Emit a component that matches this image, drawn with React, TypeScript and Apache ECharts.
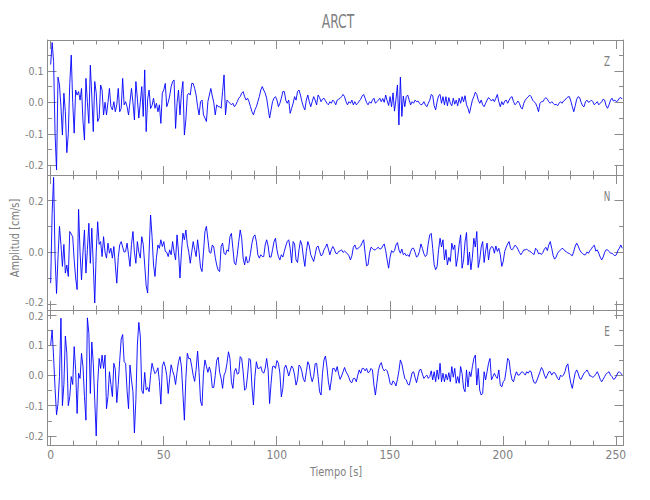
import React, { useEffect, useRef } from "react";
import * as echarts from "echarts";

// ---- data ----
const DT = 0.65; // seconds between samples
const channels = ["Z", "N", "E"];
const title = "ARCT";
const xName = "Tiempo [s]";
const yName = "Amplitud [cm/s]";
const xRange = [-1.4, 253.4];
const yRanges = [
  [-0.231, 0.198],
  [-0.224, 0.299],
  [-0.23, 0.216],
];
const yIntervals = [0.1, 0.2, 0.1];
const ySplits = [5, 3, 5];

const zAmp = [
  0.12, 0.19, 0.13, -0.1, -0.215, 0.08, 0.055, -0.014, -0.104, 0.029,
  -0.03, -0.16, -0.1, 0.06, 0.15, 0.0, -0.098, 0.039, 0.023, 0.034,
  0.007, 0.044, -0.06, -0.12, 0.076, 0.0, -0.067, 0.118, 0.02, -0.093,
  0.066, 0.03, -0.061, -0.05, 0.055, 0.039, -0.04, 0.0, -0.04, 0.0,
  0.044, -0.014, -0.024, 0.002, -0.03, -0.008, 0.044, -0.03, -0.019, 0.076,
  -0.008, 0.002, -0.014, -0.04, 0.002, 0.044, 0.0, -0.056, 0.066, 0.013,
  -0.05, 0.0, 0.05, -0.045, 0.103, -0.093, 0.01, 0.039, -0.02, -0.01,
  0.013, -0.019, -0.003, -0.03, -0.008, -0.067, 0.029, 0.04, 0.06, -0.014,
  0.0, 0.02, 0.05, 0.066, 0.071, -0.083, -0.003, 0.039, -0.04, 0.029,
  0.066, -0.104, -0.056, 0.023, 0.029, 0.023, 0.06, 0.06, 0.044, 0.023,
  -0.014, -0.04, 0.002, 0.007, -0.04, -0.05, -0.061, 0.002, 0.023, 0.044,
  0.02, 0.0, -0.04, -0.008, -0.014, -0.014,
  -0.019, 0.034, 0.087, -0.04, 0.007, 0.002, -0.003, -0.008, -0.003, -0.014,
  -0.008, 0.002, 0.013, 0.018, 0.029, 0.034, 0.018, 0.007, 0.013, 0.002,
  -0.014, -0.03, -0.04, -0.024, -0.014, 0.002, 0.018, 0.039, 0.05, 0.039,
  0.029, 0.013, -0.019, -0.05, -0.024, 0.002, 0.013, 0.018, 0.007, -0.014,
  -0.003, 0.013, 0.034, 0.034, 0.007, -0.003, 0.007, -0.035, -0.019, -0.003,
  0.018, 0.007, 0.034, 0.039, 0.023, 0.002, -0.014, -0.024, 0.007, 0.023,
  0.002, -0.014, 0.002, 0.018, 0.007, -0.008, 0.023, 0.015, 0.002, 0.01,
  0.013, 0.005, -0.003, -0.008, 0.002, -0.003, 0.007, 0.002, -0.008, 0.007,
  0.01, 0.013, 0.018, 0.025, 0.018, 0.002, -0.008, 0.002, -0.003, 0.007,
  -0.008, 0.002, -0.008, -0.003, 0.004, 0.01, 0.02, 0.025, 0.013, -0.001,
  -0.008, 0.002, -0.003, 0.007, 0.013, -0.003, 0.002, 0.007, 0.013, 0.002,
  0.012, 0.0, 0.023, 0.005, -0.01, 0.018, -0.014, 0.03, -0.028, 0.01,
  0.055, -0.072, 0.08, -0.045, 0.02, -0.014, 0.018, 0.023, 0.007, -0.008,
  0.002, -0.003, 0.007, 0.002, 0.004, -0.003,
  -0.008, -0.006, 0.002, -0.008, -0.014, -0.003, 0.007, 0.025, 0.021, -0.011,
  -0.024, 0.002, 0.021, 0.025, -0.003, 0.018, -0.008, 0.018, -0.011, 0.015,
  -0.003, -0.011, 0.013, -0.006, 0.007, -0.011, 0.013, -0.003, 0.018, 0.002,
  0.021, -0.008, -0.019, -0.035, -0.014, 0.007, 0.018, 0.032, 0.025, 0.007,
  -0.003, 0.007, -0.008, -0.014, -0.003, 0.007, 0.015, 0.01, 0.004, 0.01,
  0.002, 0.013, 0.025, 0.002, -0.014, 0.002, -0.008, 0.004, 0.007, -0.003,
  0.007, 0.015, 0.018, 0.002, -0.008, -0.003, 0.004, -0.003, -0.017, -0.021,
  -0.003, 0.007, 0.013, 0.017, 0.023, 0.018, 0.007, 0.002, -0.003, -0.014,
  -0.03, -0.003, 0.002, 0.002, 0.01, 0.015, 0.01, 0.002, -0.003, 0.002,
  -0.003, -0.008, -0.006, -0.011, -0.003, 0.002, -0.003, 0.004, 0.007, 0.013,
  0.017, 0.018, 0.004, -0.014, -0.03, -0.011, 0.01, 0.018, 0.015, 0.0,
  -0.011, -0.014, 0.002, 0.007, 0.0, 0.002, 0.007, 0.002, -0.008, -0.003,
  0.002, -0.008, -0.003, 0.002, 0.01, 0.007, -0.011, -0.019, -0.008, 0.007,
  0.013, 0.004, 0.007, 0.002, 0.005, 0.013, 0.015, 0.01,
];

const nAmp = [
  -0.12, 0.15, 0.29, -0.02, -0.16, -0.02, 0.1, 0.03, -0.055, 0.03,
  -0.081, -0.05, -0.094, 0.08, 0.07, 0.06, -0.03, -0.1, -0.145, 0.166,
  0.0, -0.107, 0.0, 0.086, -0.081, 0.01, 0.112, -0.043, 0.093, -0.05,
  -0.197, 0.0, 0.118, 0.03, 0.041, -0.017, 0.06, 0.0, -0.023, 0.035,
  -0.004, 0.015, -0.023, 0.022, -0.05, -0.12, -0.02, 0.028, 0.041, 0.02,
  0.0, 0.003, 0.035, -0.01, -0.055, 0.03, 0.08, 0.0, -0.043, 0.041,
  0.0, -0.023, 0.06, 0.03, -0.05, -0.13, -0.158, 0.0, 0.144, 0.06,
  -0.05, -0.094, -0.02, 0.028, 0.015, 0.048, 0.022, 0.041, 0.003, 0.0,
  -0.017, 0.009, -0.01, 0.041, 0.0, -0.03, 0.067, 0.0, -0.1, 0.0,
  0.074, 0.048, 0.086, 0.03, 0.0, -0.043, 0.0, 0.041, 0.01, -0.017,
  0.048, 0.0, -0.06, -0.075, 0.0, 0.08, 0.1, 0.05, 0.0, -0.004,
  0.028, 0.02, -0.02, -0.05, -0.07, -0.075,
  0.022, 0.035, -0.004, -0.01, 0.009, 0.003, 0.06, 0.073, 0.015, -0.042,
  -0.049, -0.01, 0.041, 0.086, 0.054, -0.023, -0.049, -0.017, -0.042, -0.036,
  -0.004, 0.035, 0.06, 0.067, 0.041, -0.01, -0.023, -0.01, -0.017, -0.017,
  0.028, 0.048, 0.024, -0.019, -0.019, 0.009, 0.041, 0.054, 0.009, -0.017,
  -0.03, -0.01, -0.019, 0.003, 0.024, 0.041, 0.048, 0.015, -0.042, 0.041,
  0.032, -0.03, -0.04, 0.009, 0.045, 0.028, -0.019, -0.055, 0.003, 0.041,
  0.024, -0.01, -0.023, -0.036, -0.01, 0.019, 0.024, 0.003, -0.014, -0.01,
  0.009, 0.019, 0.032, 0.012, -0.01, 0.009, 0.022, 0.012, -0.004, -0.006,
  0.003, 0.005, 0.009, -0.001, 0.004, -0.001, -0.006, -0.014, -0.03, -0.014,
  0.019, 0.028, 0.012, 0.014, 0.019, 0.024, 0.037, 0.048, -0.004, -0.053,
  -0.049, -0.004, 0.019, 0.015, 0.009, 0.009, 0.015, 0.019, 0.012, 0.014,
  0.024, 0.032, 0.006, -0.03, -0.062, -0.019, 0.006, -0.001, 0.006, 0.028,
  0.037, 0.009, -0.004, 0.012, -0.01, -0.004, -0.014, -0.01, -0.017, 0.003,
  0.015, 0.015, -0.001, -0.019, -0.014, 0.003,
  0.032, 0.015, -0.006, -0.017, -0.01, 0.035, 0.067, 0.073, 0.015, -0.049,
  -0.068, -0.055, 0.009, 0.054, 0.02, 0.048, -0.03, 0.01, -0.049, -0.02,
  -0.036, 0.035, 0.01, 0.028, -0.055, -0.02, 0.03, 0.067, -0.062, -0.03,
  0.04, 0.076, -0.05, 0.0, -0.068, -0.02, 0.054, 0.02, 0.08, -0.06,
  -0.03, 0.02, 0.041, -0.04, 0.005, 0.035, -0.03, 0.012, 0.022, 0.019,
  -0.004, 0.024, 0.003, 0.015, -0.01, -0.055, -0.036, 0.003, 0.019, 0.032,
  0.041, 0.014, 0.009, 0.017, 0.027, 0.022, 0.012, -0.001, -0.01, -0.001,
  0.009, 0.009, 0.012, 0.006, 0.004, 0.0, -0.006, -0.009, 0.015, 0.009,
  -0.006, -0.004, -0.009, -0.001, 0.012, 0.019, 0.006, 0.028, 0.041, 0.015,
  -0.014, -0.027, -0.019, -0.004, 0.003, 0.009, 0.015, 0.012, 0.005, 0.001,
  -0.003, -0.005, -0.01, -0.014, 0.003, 0.024, 0.035, 0.024, 0.009, 0.0,
  -0.005, -0.01, -0.01, 0.001, -0.004, 0.006, 0.013, 0.022, 0.027, 0.004,
  0.009, -0.004, -0.019, -0.03, -0.019, -0.001, 0.009, 0.009, 0.003, -0.004,
  -0.004, -0.009, -0.014, -0.01, 0.006, 0.015, 0.028, 0.015,
];

const eAmp = [
  0.1, 0.15, 0.06, -0.043, -0.13, -0.093, -0.004, 0.189, -0.1, -0.03,
  0.13, 0.073, -0.1, -0.07, -0.004, -0.03, 0.095, 0.018, -0.126, 0.007,
  -0.01, 0.073, 0.029, -0.07, -0.148, 0.19, 0.139, -0.06, 0.11, 0.04,
  -0.082, -0.2, -0.026, 0.056, 0.023, 0.067, 0.023, 0.067, -0.11, -0.07,
  0.012, -0.03, -0.07, 0.04, 0.02, -0.09, -0.03, 0.05, 0.12, 0.135,
  0.045, 0.04, -0.05, -0.11, 0.034, -0.015, -0.054, -0.19, -0.08, 0.1,
  0.175, 0.13, -0.05, -0.06, 0.01, -0.048, -0.04, -0.054, 0.0, 0.04,
  0.02, 0.006, 0.012, 0.025, -0.02, -0.095, 0.03, 0.045, 0.028, 0.0,
  -0.06, -0.01, 0.035, 0.015, 0.0, -0.03, 0.01, 0.045, 0.062, 0.028,
  -0.06, -0.148, -0.01, 0.073, 0.055, 0.056, 0.03, 0.0, -0.02, 0.02,
  0.08, 0.01, -0.085, -0.1, 0.007, 0.051, 0.03, 0.01, 0.028, 0.01,
  -0.04, -0.04, 0.0, 0.05, 0.06, 0.01,
  -0.01, -0.043, 0.001, 0.012, 0.04, 0.078, 0.056, -0.021, -0.043, 0.012,
  0.023, 0.004, 0.007, 0.062, 0.056, 0.012, -0.049, -0.043, 0.001, 0.056,
  0.051, -0.038, -0.098, -0.004, 0.045, 0.023, 0.023, 0.029, 0.012, 0.007,
  0.023, 0.056, 0.018, -0.093, -0.026, 0.029, 0.031, 0.023, 0.049, 0.04,
  0.007, -0.071, -0.043, 0.023, 0.034, 0.018, -0.002, 0.015, 0.031, 0.023,
  0.001, -0.032, -0.015, 0.034, 0.029, 0.012, -0.013, -0.021, 0.012, 0.045,
  0.034, -0.002, -0.021, -0.004, 0.038, 0.04, -0.004, -0.054, -0.065, 0.007,
  0.051, 0.064, 0.029, -0.021, -0.049, -0.015, 0.023, 0.023, 0.012, 0.029,
  0.004, -0.013, -0.002, 0.012, 0.026, 0.012, 0.004, -0.007, -0.021, -0.024,
  -0.01, -0.01, -0.021, 0.001, 0.018, 0.007, 0.023, 0.023, 0.015, 0.023,
  0.009, 0.012, 0.023, 0.018, -0.032, -0.065, -0.026, 0.015, 0.034, 0.042,
  0.023, 0.015, 0.02, 0.015, -0.002, -0.026, -0.032, -0.018, -0.024, -0.035,
  -0.013, 0.015, 0.051, 0.038, 0.012, -0.01, -0.015, -0.029, -0.032, -0.013,
  0.009, 0.012, -0.007, -0.024, -0.002, 0.018,
  0.02, 0.004, -0.01, -0.004, 0.001, -0.01, -0.004, 0.015, -0.015, 0.012,
  -0.021, 0.018, -0.013, 0.04, -0.021, 0.007, -0.021, 0.004, -0.015, 0.009,
  -0.021, 0.029, -0.006, 0.023, -0.026, -0.004, -0.026, 0.029, 0.006, -0.043,
  -0.054, 0.018, -0.038, 0.012, -0.004, 0.029, 0.056, 0.067, -0.032, 0.023,
  -0.049, -0.065, -0.06, 0.012, -0.015, 0.012, 0.04, 0.056, -0.015, -0.004,
  0.007, -0.004, -0.01, 0.018, -0.032, -0.038, -0.021, -0.015, 0.018, 0.056,
  0.049, 0.009, -0.015, -0.021, -0.002, 0.012, 0.001, 0.001, 0.009, 0.012,
  0.007, 0.001, 0.012, 0.007, 0.015, 0.012, -0.01, -0.024, -0.026, -0.015,
  -0.002, 0.012, 0.026, 0.018, 0.001, -0.01, 0.001, 0.012, 0.012, 0.001,
  0.009, 0.009, 0.001, -0.01, -0.015, 0.001, -0.004, 0.001, 0.012, 0.031,
  0.038, 0.001, -0.026, -0.043, -0.015, 0.009, 0.018, 0.007, -0.01, -0.013,
  -0.002, 0.007, 0.012, 0.018, 0.009, -0.002, -0.002, -0.007, -0.002, 0.004,
  0.012, 0.001, -0.013, -0.021, -0.013, -0.004, 0.004, 0.009, 0.012, 0.001,
  -0.004, -0.013, -0.011, -0.002, 0.009, 0.012, 0.007, 0.001,
];

const traces = [zAmp, nAmp, eAmp];

// ---- styles / layout ----
const FONT = "'DejaVu Sans Condensed', 'Liberation Sans Narrow', 'DejaVu Sans', sans-serif";
const AXIS_COLOR = "#8c8c8c";
const TEXT_COLOR = "#808080";
const LINE_COLOR = "#0000ff";
const GRID_LEFT = 47.5;
const GRID_RIGHT = 26.5;
const GRID_TOPS = [40, 175, 310];
const GRID_H = 135;

function isMultiple(v: number, step: number) {
  const k = v / step;
  return Math.abs(k - Math.round(k)) < 1e-6;
}

function buildOption() {
  const grid = GRID_TOPS.map((t) => ({
    left: GRID_LEFT,
    right: GRID_RIGHT,
    top: t,
    height: GRID_H,
    containLabel: false,
    outerBoundsMode: "none",
  }));

  const xAxis: any[] = [];
  const yAxis: any[] = [];
  GRID_TOPS.forEach((_, g) => {
    ["bottom", "top"].forEach((pos) => {
      xAxis.push({
        type: "value",
        gridIndex: g,
        position: pos,
        min: xRange[0],
        max: xRange[1],
        splitNumber: 5,
        axisLine: { show: true, onZero: false, lineStyle: { color: AXIS_COLOR, width: 1 } },
        axisTick: { show: true, inside: true, length: 9, lineStyle: { color: AXIS_COLOR, width: 1 } },
        minorTick: { show: true, splitNumber: 5, length: 4.5, lineStyle: { color: AXIS_COLOR, width: 1 } },
        splitLine: { show: false },
        minorSplitLine: { show: false },
        axisLabel: {
          show: pos === "bottom" && g === 2,
          color: TEXT_COLOR,
          fontFamily: FONT,
          fontSize: 12,
          lineHeight: 12,
          margin: 4,
          formatter: (v: number) => (isMultiple(v, 50) ? String(Math.round(v)) : ""),
        },
      });
    });
    ["left", "right"].forEach((pos) => {
      yAxis.push({
        type: "value",
        gridIndex: g,
        position: pos,
        min: yRanges[g][0],
        max: yRanges[g][1],
        splitNumber: ySplits[g],
        axisLine: { show: true, onZero: false, lineStyle: { color: AXIS_COLOR, width: 1 } },
        axisTick: { show: true, inside: true, length: 9, lineStyle: { color: AXIS_COLOR, width: 1 } },
        minorTick: { show: true, splitNumber: 2, length: 4.5, lineStyle: { color: AXIS_COLOR, width: 1 } },
        splitLine: { show: false },
        minorSplitLine: { show: false },
        axisLabel: {
          show: pos === "left",
          color: TEXT_COLOR,
          fontFamily: FONT,
          fontSize: 10.5,
          lineHeight: 10,
          margin: 4,
          rich: {
            up: { fontFamily: FONT, fontSize: 10.5, lineHeight: 10, color: TEXT_COLOR, padding: [0, 0, 3, 0] },
            down: { fontFamily: FONT, fontSize: 10.5, lineHeight: 10, color: TEXT_COLOR, padding: [3, 0, 0, 0] },
          },
          formatter: (v: number) => {
            if (!isMultiple(v, yIntervals[g])) return "";
            const s = Math.abs(v) < 1e-9 ? "0.0" : v.toFixed(1);
            // nudge the two labels that sit close to the panel border
            if (g === 1 && Math.abs(v + 0.2) < 1e-6) return "{up|" + s + "}";
            if (g === 2 && Math.abs(v - 0.2) < 1e-6) return "{down|" + s + "}";
            return s;
          },
        },
      });
    });
  });

  const series = traces.map((amp, g) => ({
    type: "line",
    xAxisIndex: g * 2,
    yAxisIndex: g * 2,
    data: amp.map((v, i) => [i * DT, v]),
    showSymbol: false,
    symbol: "none",
    lineStyle: { color: LINE_COLOR, width: 0.9 },
    itemStyle: { color: LINE_COLOR },
    clip: true,
    silent: true,
  }));

  const textStyle = (size: number) => ({ fill: TEXT_COLOR, fontFamily: FONT, fontSize: size });

  const graphic: any[] = [
    {
      type: "text",
      x: 338,
      y: 22,
      scaleX: 0.72,
      style: { text: title, textAlign: "center", textVerticalAlign: "middle", ...textStyle(19) },
    },
    {
      type: "text",
      x: 336,
      y: 472,
      scaleX: 0.84,
      style: { text: xName, textAlign: "center", textVerticalAlign: "middle", ...textStyle(13) },
    },
    {
      type: "text",
      x: 14.5,
      y: 238,
      rotation: Math.PI / 2,
      scaleX: 0.84,
      style: { text: yName, textAlign: "center", textVerticalAlign: "middle", ...textStyle(13) },
    },
    ...channels.map((c, g) => ({
      type: "text",
      x: 607,
      y: GRID_TOPS[g] + 21,
      scaleX: 0.7,
      style: { text: c, textAlign: "center", textVerticalAlign: "middle", ...textStyle(14) },
    })),
  ];

  return {
    animation: false,
    backgroundColor: "#ffffff",
    grid,
    xAxis,
    yAxis,
    series,
    graphic,
  };
}

export default function App() {
  const ref = useRef<HTMLDivElement>(null);
  useEffect(() => {
    if (!ref.current) return;
    const chart = echarts.init(ref.current, undefined, { renderer: "svg" });
    chart.setOption(buildOption() as any);
    return () => chart.dispose();
  }, []);
  return (
    <div
      ref={ref}
      style={{ position: "absolute", left: 0, top: 0, width: 650, height: 500 }}
    />
  );
}
